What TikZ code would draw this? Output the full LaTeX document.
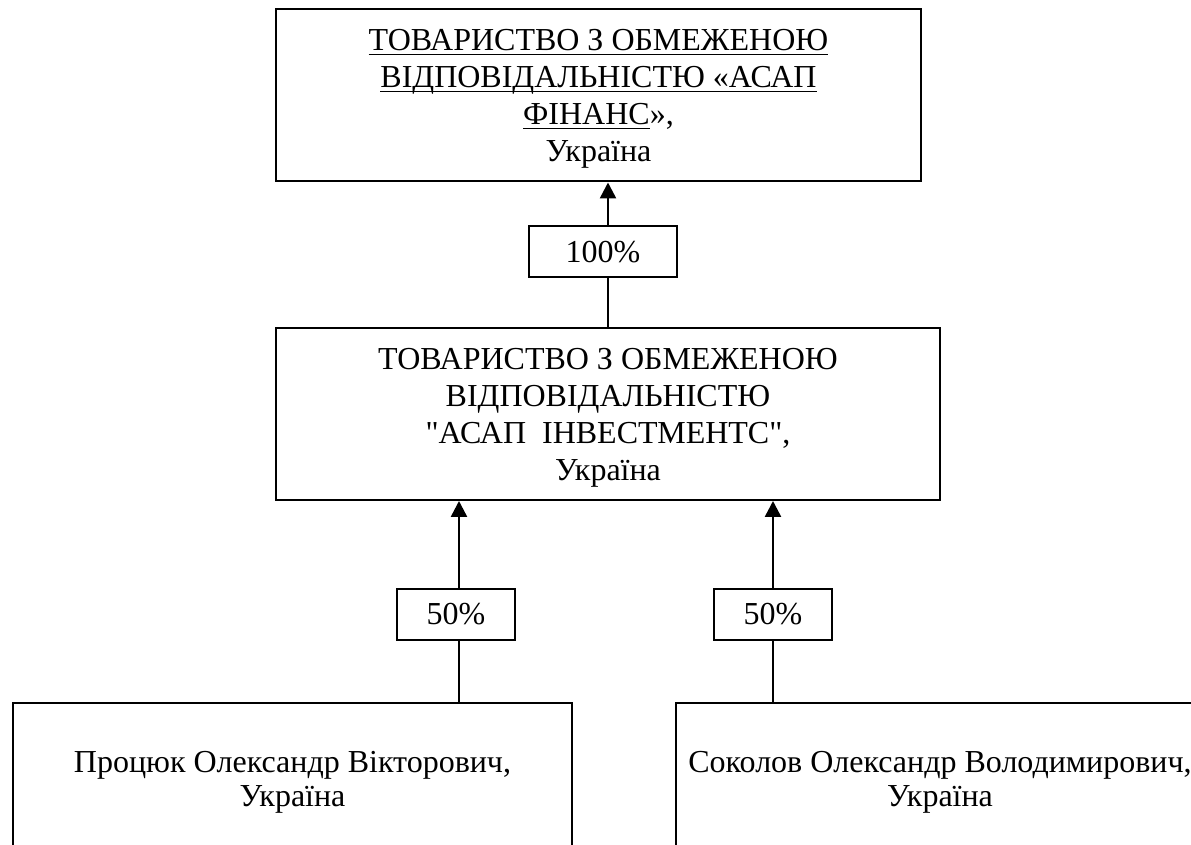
\documentclass[tikz,border=0pt]{standalone}
\usepackage{fontspec}
\setmainfont{Liberation Serif}
\usetikzlibrary{arrows.meta}
% underline at a fixed depth
\newcommand{\ulline}[1]{\setbox0\hbox{#1}\rlap{\rule[-2.4pt]{\wd0}{0.9pt}}\box0}
\tikzset{
  firm/.style={draw, line width=1pt, minimum height=86pt, text depth=0pt,
    inner sep=0pt, align=center, font=\fontsize{16}{18.5}\selectfont},
  share/.style={draw, line width=1pt, minimum width=59pt, minimum height=25.5pt,
    inner sep=0pt, font=\fontsize{16}{18.5}\selectfont},
  person/.style={draw, line width=1pt, minimum height=76pt, text depth=0pt,
    inner sep=0pt, align=center, font=\fontsize{16}{17}\selectfont},
  own/.style={line width=1.25pt, -{Triangle[width=8pt,length=8pt]}},
  tie/.style={line width=1pt}
}
\begin{document}
\begin{tikzpicture}[x=0.5pt, y=-0.5pt]
  \useasboundingbox (0,0) rectangle (1191,845);
  \node [firm, minimum width=322.5pt] (n1) at (598.5,95.5) {\ulline{ТОВАРИСТВО З ОБМЕЖЕНОЮ}\\ \ulline{ВІДПОВІДАЛЬНІСТЮ «АСАП}\\ \ulline{ФІНАНС}»,\\ Україна};
  \node [share, minimum width=74pt] (s1) at (603,252) {100\%};
  \node [firm, minimum width=332pt] (n2) at (608,414) {ТОВАРИСТВО З ОБМЕЖЕНОЮ\\ ВІДПОВІДАЛЬНІСТЮ\\ \textquotedbl АСАП\ \ ІНВЕСТМЕНТС\textquotedbl,\\ Україна};
  \node [share] (s2) at (456,614.5) {50\%};
  \node [share] (s3) at (773,614.5) {50\%};
  \node [person, minimum width=279.5pt] (p1) at (292.5,779) {Процюк Олександр Вікторович,\\ Україна};
  \node [person, minimum width=264pt] (p2) at (940,779) {Соколов Олександр Володимирович,\\ Україна};
  \draw [own] ([xshift=2.5pt]s1.north) -- ([xshift=2.5pt]s1.north |- n1.south);
  \draw [tie] ([xshift=2.5pt]s1.south) -- (n2.north);
  \draw [own] ([xshift=1.5pt]s2.north) -- ([xshift=1.5pt]s2.north |- n2.south);
  \draw [tie] ([xshift=1.5pt]s2.south) -- ([xshift=1.5pt]s2.south |- p1.north);
  \draw [own] (s3.north) -- (s3.north |- n2.south);
  \draw [tie] (s3.south) -- (s3.south |- p2.north);
\end{tikzpicture}
\end{document}
